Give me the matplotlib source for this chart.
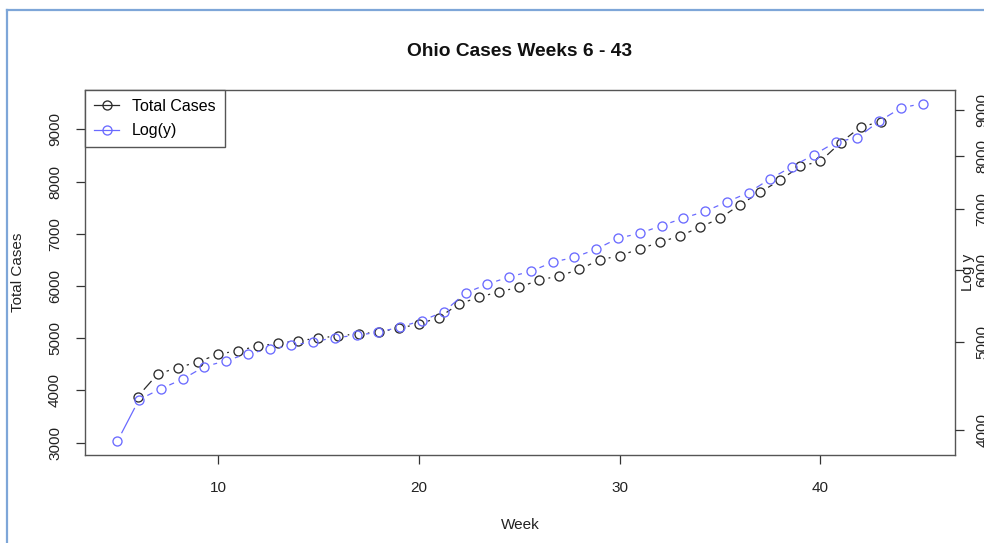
import numpy as np
import matplotlib
matplotlib.use("Agg")
import matplotlib.pyplot as plt
from matplotlib.collections import LineCollection
from matplotlib.lines import Line2D
from matplotlib.ticker import NullLocator

plt.rcParams["font.family"] = ["Liberation Sans", "DejaVu Sans"]

# Weekly cumulative Ohio case totals
weeks = [6, 7, 8, 9, 10, 11, 12, 13, 14, 15, 16, 17, 18, 19, 20, 21, 22, 23, 24,
         25, 26, 27, 28, 29, 30, 31, 32, 33, 34, 35, 36, 37, 38, 39, 40, 41, 42, 43]
total_cases = [3881, 4315, 4436, 4545, 4692, 4762, 4851, 4903, 4953, 4999, 5049,
               5081, 5119, 5190, 5273, 5393, 5656, 5784, 5891, 5975, 6115, 6192,
               6320, 6498, 6580, 6709, 6837, 6958, 7124, 7297, 7557, 7794, 8030,
               8292, 8388, 8744, 9044, 9145]

left_ticks = [3000, 4000, 5000, 6000, 7000, 8000, 9000]
right_ticks = [4000, 5000, 6000, 7000, 8000, 9000]
x_ticks = [10, 20, 30, 40]

title = "Ohio Cases Weeks 6 - 43"
legend_labels = ["Total Cases", "Log(y)"]

BLACK = "#2b2b2b"
BLUE = "#6a6aff"
FRAME = "#555555"

W, H = 984, 543
fig = plt.figure(figsize=(W / 100, H / 100), dpi=100)
rect = [85 / W, 1 - 455 / H, 870 / W, 365 / H]

ax = fig.add_axes(rect)
ax2 = fig.add_axes(rect)
ax2.patch.set_visible(False)

# Linear panel: total cases against week
ax.set_xlim(3.38, 46.7)
ax.set_ylim(2764, 9752)

# Log panel: same totals, default 4% padding on each range
xr = weeks[-1] - weeks[0]
ax2.set_xlim(weeks[0] - 0.04 * xr, weeks[-1] + 0.04 * xr)
ax2.set_yscale("log")
lo, hi = np.log10(min(total_cases)), np.log10(max(total_cases))
pad = 0.04 * (hi - lo)
ax2.set_ylim(10 ** (lo - pad), 10 ** (hi + pad))

MS = 6.5
MEW = 0.95


def draw_points_lines(a, x, y, color, gap=9.3):
    """Open circles joined by line segments that stop short of each point."""
    pts = a.transData.transform(np.column_stack([x, y]))
    inv = a.transData.inverted()
    segs = []
    for p, q in zip(pts[:-1], pts[1:]):
        d = q - p
        L = np.hypot(*d)
        if L > 2 * gap:
            u = d / L
            segs.append(inv.transform(np.array([p + u * gap, q - u * gap])))
    a.add_collection(LineCollection(segs, colors=color, linewidths=0.9), autolim=False)
    a.plot(x, y, linestyle="none", marker="o", mfc="none", mec=color, ms=MS, mew=MEW)


draw_points_lines(ax, weeks, total_cases, BLACK)
draw_points_lines(ax2, weeks, total_cases, BLUE)

# Frame and axes
for s in ax.spines.values():
    s.set_color(FRAME)
    s.set_linewidth(1.0)
for s in ax2.spines.values():
    s.set_visible(False)

tick_kw = dict(length=6.5, width=0.9, color="#333333", labelsize=11,
               labelcolor="#222222")
ax.set_xticks(x_ticks)
ax.set_xticklabels([str(t) for t in x_ticks])
ax.set_yticks(left_ticks)
ax.set_yticklabels([str(t) for t in left_ticks], rotation=90, va="center")
ax.tick_params(axis="x", pad=12, **tick_kw)
ax.tick_params(axis="y", pad=10, **tick_kw)

ax2.xaxis.set_visible(False)
ax2.yaxis.tick_right()
ax2.set_yticks(right_ticks)
ax2.set_yticklabels([str(t) for t in right_ticks], rotation=90, va="center")
ax2.yaxis.set_minor_locator(NullLocator())
ax2.tick_params(axis="y", pad=8, **tick_kw)

# Text
fig.text(520 / W, 1 - 51 / H, title, ha="center", va="center",
         fontsize=13.8, fontweight="bold", color="#111111")
fig.text(520 / W, 1 - 525 / H, "Week", ha="center", va="center",
         fontsize=11, color="#222222")
fig.text(18 / W, 1 - 272 / H, "Total Cases", ha="center", va="center",
         rotation=90, fontsize=11, color="#222222")
fig.text(968 / W, 1 - 272 / H, "Log y", ha="center", va="center",
         rotation=90, fontsize=11, color="#222222")

handles = [
    Line2D([], [], color=BLACK, lw=0.9, marker="o", mfc="none", mec=BLACK, ms=MS, mew=MEW),
    Line2D([], [], color=BLUE, lw=0.9, marker="o", mfc="none", mec=BLUE, ms=MS, mew=MEW),
]
leg = ax2.legend(handles, legend_labels, loc="upper left", bbox_to_anchor=(0, 1),
                 borderaxespad=0, frameon=True, fancybox=False, edgecolor=FRAME,
                 framealpha=1, fontsize=11.5, handlelength=1.6, handletextpad=0.8,
                 borderpad=0.55, labelspacing=0.6)
leg.get_frame().set_linewidth(1.0)

# Window border
border = "#7ea6d8"
fig.add_artist(Line2D([7 / W, 7 / W], [0, 1 - 10 / H], transform=fig.transFigure,
                      color=border, lw=1.6))
fig.add_artist(Line2D([7 / W, 1], [1 - 10 / H, 1 - 10 / H], transform=fig.transFigure,
                      color=border, lw=1.6))

fig.savefig("out.png", dpi=100)
